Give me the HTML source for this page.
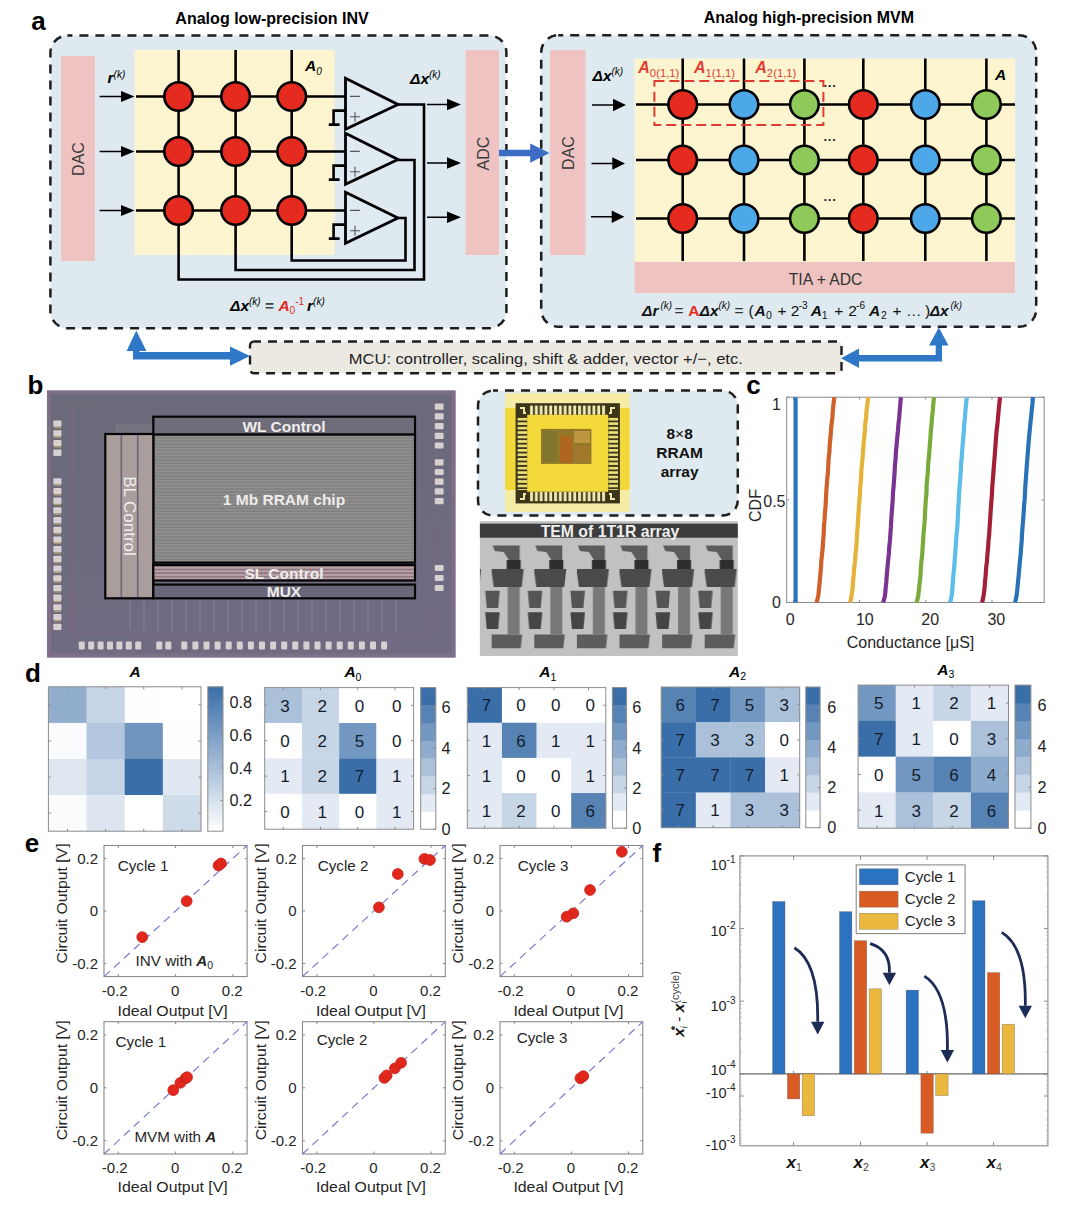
<!DOCTYPE html>
<html><head><meta charset="utf-8"><title>Figure</title>
<style>
html,body{margin:0;padding:0;background:#fff;width:1080px;height:1215px;overflow:hidden;}
svg{display:block;}
text{font-family:"Liberation Sans",Arial,sans-serif;}
.b{font-weight:bold;}
.bi{font-weight:bold;font-style:italic;}
.lbl{font-weight:bold;fill:#000;}
</style></head>
<body>
<svg width="1080" height="1215" viewBox="0 0 1080 1215">
<defs>
<marker id="ah" viewBox="0 0 10 10" refX="10" refY="5" markerWidth="10" markerHeight="10" markerUnits="userSpaceOnUse" orient="auto"><path d="M0,0 L10,5 L0,10 z" fill="#000"/></marker>
</defs>
<rect width="1080" height="1215" fill="#fff"/>

<!-- ============ SECTION A ============ -->
<text class="lbl" x="31.2" y="29.5" font-size="26">a</text>
<text class="b" x="175.3" y="24.4" font-size="16" textLength="193.5" lengthAdjust="spacingAndGlyphs">Analog low-precision INV</text>
<text class="b" x="703.8" y="22.8" font-size="16" textLength="210.2" lengthAdjust="spacingAndGlyphs">Analog high-precision MVM</text>

<!-- left box -->
<rect x="50.4" y="35.6" width="456" height="292.6" rx="17" fill="#deeaf0" stroke="#1e1e1e" stroke-width="2.5" stroke-dasharray="9 7" stroke-dashoffset="4"/>
<rect x="61" y="56" width="34" height="205" fill="#eec3c1"/>
<text x="84" y="159" font-size="16" fill="#3a3a3a" text-anchor="middle" transform="rotate(-90 84 159)">DAC</text>
<rect x="134.5" y="50" width="200" height="205" fill="#fcf5cf"/>
<rect x="465.5" y="50" width="33.5" height="205" fill="#eec3c1"/>
<text x="489" y="153.5" font-size="16" fill="#3a3a3a" text-anchor="middle" transform="rotate(-90 489 153.5)">ADC</text>

<g stroke="#000" stroke-width="2.6" fill="none">
<!-- columns with feedback -->
<path d="M178.6,50 V279.5 H424 V104.5 H398"/>
<path d="M235.6,50 V270 H414.5 V160 H398"/>
<path d="M291.7,50 V260.5 H405.5 V218 H398"/>
<!-- rows -->
<path d="M136,96.5 H345.5 M136,151.5 H345.5 M136,210.5 H345.5"/>
<!-- op-amps -->
<path d="M345.5,78.3 V129.3 L398,104.5 Z" stroke-width="2.8" fill="#dfeaf1"/>
<path d="M345.5,133.3 V184.3 L398,159.5 Z" stroke-width="2.8" fill="#dfeaf1"/>
<path d="M345.5,192.3 V243.3 L398,218 Z" stroke-width="2.8" fill="#dfeaf1"/>
<!-- ground symbols -->
<path d="M345.5,110.6 H333.6 V124.6 M328.8,124.6 H339.6"/>
<path d="M345.5,165.6 H333.6 V179.6 M328.8,179.6 H339.6"/>
<path d="M345.5,224.6 H333.6 V238.6 M328.8,238.6 H339.6"/>
</g>
<g stroke="#555" stroke-width="1.1" fill="none">
<path d="M350,96.4 H359.8 M350,151.4 H359.8 M350,210.4 H359.8"/>
<path d="M350,116.8 H360 M355,111.8 V121.8 M350,171.8 H360 M355,166.8 V176.8 M350,230.8 H360 M355,225.8 V235.8"/>
</g>
<!-- circles -->
<g fill="#e52b20" stroke="#000" stroke-width="2.6">
<circle cx="178.6" cy="96.5" r="14.3"/><circle cx="235.6" cy="96.5" r="14.3"/><circle cx="291.7" cy="96.5" r="14.3"/>
<circle cx="178.6" cy="151.5" r="14.3"/><circle cx="235.6" cy="151.5" r="14.3"/><circle cx="291.7" cy="151.5" r="14.3"/>
<circle cx="178.6" cy="210.5" r="14.3"/><circle cx="235.6" cy="210.5" r="14.3"/><circle cx="291.7" cy="210.5" r="14.3"/>
</g>
<!-- input arrows -->
<g stroke="#000" stroke-width="1.5">
<path d="M99.6,96.5 H122 M99.6,151.5 H122 M99.6,210.5 H122"/>
<path d="M427,104.5 H448 M427,163 H448 M427,217.2 H448"/>
</g>
<g fill="#000">
<path d="M121,91 L134.5,96.5 L121,102 Z M121,146 L134.5,151.5 L121,157 Z M121,205 L134.5,210.5 L121,216 Z"/>
<path d="M447,98.7 L461,104.5 L447,110.3 Z M447,157.2 L461,163 L447,168.8 Z M447,211.4 L461,217.2 L447,223 Z"/>
</g>
<text class="bi" x="107.5" y="82.8" font-size="15.5">r<tspan font-size="10" dy="-4.5" font-weight="normal">(k)</tspan></text>
<text class="bi" x="305" y="71.3" font-size="15.5">A<tspan font-size="10" dy="3.5" font-weight="normal">0</tspan></text>
<text class="bi" x="410" y="84.4" font-size="15.5">Δx<tspan font-size="10" dy="-6" font-weight="normal">(k)</tspan></text>
<text class="bi" x="230" y="310.6" font-size="15.5">Δx<tspan font-size="10" dy="-6" font-weight="normal">(k)</tspan><tspan dy="6" font-style="normal" fill="#444"> = </tspan><tspan fill="#e02a22">A</tspan><tspan font-size="10" dy="3.5" fill="#e02a22" font-style="normal" font-weight="normal">0</tspan><tspan font-size="10" dy="-9" fill="#e02a22" font-style="normal" font-weight="normal">-1</tspan><tspan dy="5.5" dx="3">r</tspan><tspan font-size="10" dy="-6" font-weight="normal">(k)</tspan></text>

<!-- blue arrow between boxes -->


<!-- right box -->
<rect x="541.2" y="35.2" width="495" height="291.5" rx="17" fill="#deeaf0" stroke="#1e1e1e" stroke-width="2.5" stroke-dasharray="9 7" stroke-dashoffset="4"/>
<path d="M499,149.8 H530.2 V143.6 L549.5,153 L530.2,162.7 V156.2 H499 Z" fill="#3d6cc4"/>
<rect x="550" y="50" width="35.5" height="205" fill="#eec3c1"/>
<text x="573.5" y="153" font-size="16" fill="#3a3a3a" text-anchor="middle" transform="rotate(-90 573.5 153)">DAC</text>
<rect x="634.5" y="58.5" width="380.5" height="203.5" fill="#fcf5cf"/>
<rect x="634.5" y="262" width="380.5" height="31" fill="#eec3c1"/>
<text x="825.6" y="285" font-size="15.7" fill="#333" text-anchor="middle">TIA + ADC</text>
<g stroke="#000" stroke-width="2.6" fill="none">
<path d="M682.7,58.5 V261 M744,58.5 V261 M804.4,58.5 V261 M863.3,58.5 V261 M925.3,58.5 V261 M986.4,58.5 V261"/>
<path d="M636,104.5 H1015 M636,160 H1015 M636,218.5 H1015"/>
</g>
<g stroke="#000" stroke-width="2.6">
<g fill="#e52b20"><circle cx="682.7" cy="104.5" r="14.3"/><circle cx="682.7" cy="160" r="14.3"/><circle cx="682.7" cy="218.5" r="14.3"/>
<circle cx="863.3" cy="104.5" r="14.3"/><circle cx="863.3" cy="160" r="14.3"/><circle cx="863.3" cy="218.5" r="14.3"/></g>
<g fill="#4da8ea"><circle cx="744" cy="104.5" r="14.3"/><circle cx="744" cy="160" r="14.3"/><circle cx="744" cy="218.5" r="14.3"/>
<circle cx="925.3" cy="104.5" r="14.3"/><circle cx="925.3" cy="160" r="14.3"/><circle cx="925.3" cy="218.5" r="14.3"/></g>
<g fill="#8ec95a"><circle cx="804.4" cy="104.5" r="14.3"/><circle cx="804.4" cy="160" r="14.3"/><circle cx="804.4" cy="218.5" r="14.3"/>
<circle cx="986.4" cy="104.5" r="14.3"/><circle cx="986.4" cy="160" r="14.3"/><circle cx="986.4" cy="218.5" r="14.3"/></g>
</g>
<rect x="654.4" y="81.1" width="169" height="43.8" fill="none" stroke="#e03c31" stroke-width="2" stroke-dasharray="10 5"/>
<g stroke="#000" stroke-width="1.5">
<path d="M592,105 H614 M591.5,163.5 H613.5 M591,216.7 H613"/>
</g>
<g fill="#000">
<path d="M613,98.7 L626,105 L613,111.3 Z M612.3,157.2 L625,163.5 L612.3,169.8 Z M611.7,210.4 L624.4,216.7 L611.7,223 Z"/>
</g>
<g font-size="13" font-weight="bold" fill="#222"><text x="823.5" y="90">···</text><text x="823.5" y="144">···</text><text x="823.5" y="203.5">···</text></g>
<text class="bi" x="592.5" y="80.5" font-size="15.5">Δx<tspan font-size="10" dy="-6" font-weight="normal">(k)</tspan></text>
<g class="bi" font-size="16" fill="#e03c31">
<text x="638.3" y="73.3">A<tspan font-size="11.3" dy="3.4" font-weight="normal" font-style="normal">0(1,1)</tspan></text>
<text x="694" y="73.3">A<tspan font-size="11.3" dy="3.4" font-weight="normal" font-style="normal">1(1,1)</tspan></text>
<text x="755.3" y="73.3">A<tspan font-size="11.3" dy="3.4" font-weight="normal" font-style="normal">2(1,1)</tspan></text>
</g>
<text class="bi" x="995" y="80" font-size="15.5">A</text>
<text class="bi" font-size="15.5" fill="#111"><tspan x="642" y="315.5">Δr</tspan><tspan x="660.5" y="309.0" font-size="10" font-weight="normal">(k)</tspan><tspan x="674.5" y="315.5" font-style="normal" font-weight="normal" fill="#333">=</tspan><tspan x="688.3" y="315.5" fill="#e52b20" font-style="normal">A</tspan><tspan x="699.5" y="315.5">Δx</tspan><tspan x="718.5" y="309.0" font-size="10" font-weight="normal">(k)</tspan><tspan x="734.5" y="315.5" font-style="normal" font-weight="normal" fill="#333">=</tspan><tspan x="748.5" y="315.5" font-style="normal" font-weight="normal">(</tspan><tspan x="754.6" y="315.5">A</tspan><tspan x="766" y="319.0" font-size="10.5" font-weight="normal" font-style="normal">0</tspan><tspan x="777.5" y="315.5" font-style="normal" font-weight="normal">+</tspan><tspan x="790.8" y="315.5" font-style="normal" font-weight="normal">2</tspan><tspan x="798.7" y="309.0" font-size="10" font-weight="normal" font-style="normal">-3</tspan><tspan x="810.7" y="315.5">A</tspan><tspan x="821.8" y="319.0" font-size="10.5" font-weight="normal" font-style="normal">1</tspan><tspan x="834.2" y="315.5" font-style="normal" font-weight="normal">+</tspan><tspan x="848.2" y="315.5" font-style="normal" font-weight="normal">2</tspan><tspan x="856.1" y="309.0" font-size="10" font-weight="normal" font-style="normal">-6</tspan><tspan x="868.9" y="315.5">A</tspan><tspan x="880.9" y="319.0" font-size="10.5" font-weight="normal" font-style="normal">2</tspan><tspan x="892.4" y="315.5" font-style="normal" font-weight="normal">+</tspan><tspan x="906" y="315.5" font-style="normal" font-weight="normal">…</tspan><tspan x="925" y="315.5" font-style="normal" font-weight="normal">)</tspan><tspan x="929.7" y="315.5">Δx</tspan><tspan x="950.5" y="309.0" font-size="10" font-weight="normal">(k)</tspan></text>

<!-- MCU -->
<rect x="250" y="341.5" width="591.5" height="31.8" rx="4" fill="#ebe9e2" stroke="#1e1e1e" stroke-width="2.4" stroke-dasharray="9 7" stroke-dashoffset="2"/>
<text x="348.8" y="363.7" font-size="15" fill="#222" textLength="394" lengthAdjust="spacingAndGlyphs">MCU: controller, scaling, shift &amp; adder, vector +/−, etc.</text>
<path d="M133,359.4 V351 H126.6 L136.3,330.6 L146.4,351 H139.4 V352 H230 V346.6 L250,356 L230,365.7 V359.4 Z" fill="#2f78c6"/>
<path d="M942,361.6 V345.5 H948.5 L938.8,327.4 L929,345.5 H935.7 V355 H859 V348.5 L841,358.3 L859,368 V361.6 Z" fill="#2f78c6"/>

<!-- ============ SECTION B ============ -->
<text class="lbl" x="27.5" y="393.7" font-size="26">b</text>
<defs>
<pattern id="arr" x="0" y="0" width="6" height="3.2" patternUnits="userSpaceOnUse">
<rect width="6" height="3.2" fill="#908f8d"/><rect y="2" width="6" height="1.1" fill="#7c7b7d"/>
</pattern>
<pattern id="sl" x="0" y="565" width="6" height="3.6" patternUnits="userSpaceOnUse">
<rect width="6" height="3.6" fill="#8e7a84"/><rect y="2" width="6" height="1.5" fill="#c5a9ad"/>
</pattern>
<pattern id="padsL" x="53" y="419.8" width="10" height="9.75" patternUnits="userSpaceOnUse">
<rect x="0.5" y="1" width="8" height="6" rx="1" fill="#d8d0cf"/><rect x="1" y="7" width="7" height="1.5" fill="#b59a6a"/>
</pattern>
<pattern id="padsR" x="434.5" y="401.8" width="10" height="9.8" patternUnits="userSpaceOnUse">
<rect x="0.2" y="1" width="8.8" height="6" rx="1" fill="#d8d0cf"/>
</pattern>
<pattern id="padsB" x="78" y="640" width="9.4" height="10" patternUnits="userSpaceOnUse">
<rect x="0.5" y="1.5" width="6" height="8" rx="1" fill="#d6cfd0"/>
</pattern>
<pattern id="padsB3" x="155.5" y="640" width="9" height="10" patternUnits="userSpaceOnUse">
<rect x="0.5" y="1.5" width="6" height="8" rx="1" fill="#d6cfd0"/></pattern>
<pattern id="padsB2" x="180.6" y="640" width="11.1" height="10" patternUnits="userSpaceOnUse">
<rect x="0.5" y="1.5" width="6" height="8" rx="1" fill="#d6cfd0"/></pattern>
<linearGradient id="chipg" x1="0" y1="0" x2="0.25" y2="1">
<stop offset="0" stop-color="#6a6a79"/><stop offset="0.6" stop-color="#6c6a7e"/><stop offset="1" stop-color="#706b83"/>
</linearGradient>
</defs>
<rect x="47" y="390.5" width="408.5" height="267" fill="url(#chipg)"/>
<rect x="49" y="392.5" width="404.5" height="263" fill="none" stroke="#84708a" stroke-width="4" opacity="0.7"/>
<rect x="73" y="405" width="362" height="228" fill="none" stroke="#80687c" stroke-width="1" opacity="0.7"/>
<g fill="#d7d0d1"><rect x="53.3" y="420.5" width="8.2" height="6.3" rx="1"/><rect x="53.3" y="430.2" width="8.2" height="6.3" rx="1"/><rect x="53.3" y="439.9" width="8.2" height="6.3" rx="1"/><rect x="53.3" y="449.6" width="8.2" height="6.3" rx="1"/><rect x="53.3" y="478.2" width="8.2" height="6.3" rx="1"/><rect x="53.3" y="487.9" width="8.2" height="6.3" rx="1"/><rect x="53.3" y="497.6" width="8.2" height="6.3" rx="1"/><rect x="53.3" y="507.3" width="8.2" height="6.3" rx="1"/><rect x="53.3" y="517.0" width="8.2" height="6.3" rx="1"/><rect x="53.3" y="526.7" width="8.2" height="6.3" rx="1"/><rect x="53.3" y="536.4" width="8.2" height="6.3" rx="1"/><rect x="53.3" y="546.1" width="8.2" height="6.3" rx="1"/><rect x="53.3" y="555.8" width="8.2" height="6.3" rx="1"/><rect x="53.3" y="565.5" width="8.2" height="6.3" rx="1"/><rect x="53.3" y="575.2" width="8.2" height="6.3" rx="1"/><rect x="53.3" y="584.9" width="8.2" height="6.3" rx="1"/><rect x="53.3" y="594.6" width="8.2" height="6.3" rx="1"/><rect x="53.3" y="604.3" width="8.2" height="6.3" rx="1"/><rect x="53.3" y="614.0" width="8.2" height="6.3" rx="1"/><rect x="53.3" y="623.7" width="8.2" height="6.3" rx="1"/><rect x="434.8" y="403.6" width="8.8" height="6.2" rx="1"/><rect x="434.8" y="413.3" width="8.8" height="6.2" rx="1"/><rect x="434.8" y="423.0" width="8.8" height="6.2" rx="1"/><rect x="434.8" y="432.7" width="8.8" height="6.2" rx="1"/><rect x="434.8" y="442.4" width="8.8" height="6.2" rx="1"/><rect x="434.8" y="459.2" width="8.8" height="6.2" rx="1"/><rect x="434.8" y="468.9" width="8.8" height="6.2" rx="1"/><rect x="434.8" y="478.6" width="8.8" height="6.2" rx="1"/><rect x="434.8" y="488.3" width="8.8" height="6.2" rx="1"/><rect x="434.8" y="498.0" width="8.8" height="6.2" rx="1"/><rect x="434.8" y="564.9" width="8.8" height="6.2" rx="1"/><rect x="434.8" y="574.9" width="8.8" height="6.2" rx="1"/><rect x="434.8" y="584.9" width="8.8" height="6.2" rx="1"/><rect x="78.8" y="641.5" width="6" height="8" rx="1"/><rect x="88.2" y="641.5" width="6" height="8" rx="1"/><rect x="97.6" y="641.5" width="6" height="8" rx="1"/><rect x="107.0" y="641.5" width="6" height="8" rx="1"/><rect x="116.4" y="641.5" width="6" height="8" rx="1"/><rect x="125.8" y="641.5" width="6" height="8" rx="1"/><rect x="135.2" y="641.5" width="6" height="8" rx="1"/><rect x="156.3" y="641.5" width="6" height="8" rx="1"/><rect x="165.3" y="641.5" width="6" height="8" rx="1"/><rect x="181.3" y="641.5" width="6" height="8" rx="1"/><rect x="192.4" y="641.5" width="6" height="8" rx="1"/><rect x="203.5" y="641.5" width="6" height="8" rx="1"/><rect x="214.6" y="641.5" width="6" height="8" rx="1"/><rect x="225.7" y="641.5" width="6" height="8" rx="1"/><rect x="236.8" y="641.5" width="6" height="8" rx="1"/><rect x="247.9" y="641.5" width="6" height="8" rx="1"/><rect x="259.0" y="641.5" width="6" height="8" rx="1"/><rect x="270.1" y="641.5" width="6" height="8" rx="1"/><rect x="281.2" y="641.5" width="6" height="8" rx="1"/><rect x="292.3" y="641.5" width="6" height="8" rx="1"/><rect x="303.4" y="641.5" width="6" height="8" rx="1"/><rect x="314.5" y="641.5" width="6" height="8" rx="1"/><rect x="325.6" y="641.5" width="6" height="8" rx="1"/><rect x="336.7" y="641.5" width="6" height="8" rx="1"/><rect x="347.8" y="641.5" width="6" height="8" rx="1"/><rect x="358.9" y="641.5" width="6" height="8" rx="1"/><rect x="370.0" y="641.5" width="6" height="8" rx="1"/><rect x="381.1" y="641.5" width="6" height="8" rx="1"/></g><g fill="#b59a6a"><rect x="54" y="426.8" width="7" height="1.4"/><rect x="54" y="436.5" width="7" height="1.4"/><rect x="54" y="446.2" width="7" height="1.4"/><rect x="54" y="484.5" width="7" height="1.4"/><rect x="54" y="494.2" width="7" height="1.4"/><rect x="54" y="503.9" width="7" height="1.4"/><rect x="54" y="513.6" width="7" height="1.4"/><rect x="54" y="523.3" width="7" height="1.4"/><rect x="54" y="533.0" width="7" height="1.4"/><rect x="54" y="542.7" width="7" height="1.4"/><rect x="54" y="552.4" width="7" height="1.4"/><rect x="54" y="562.1" width="7" height="1.4"/><rect x="54" y="571.8" width="7" height="1.4"/><rect x="54" y="581.5" width="7" height="1.4"/><rect x="54" y="591.2" width="7" height="1.4"/><rect x="54" y="600.9" width="7" height="1.4"/><rect x="54" y="610.6" width="7" height="1.4"/><rect x="54" y="620.3" width="7" height="1.4"/></g>
<!-- lower wiring lines -->
<g stroke="#9c92a6" stroke-width="0.8" opacity="0.8">
<path d="M130,600 V630 M144,600 V630 M158,600 V632 M172,600 V632 M186,600 V632 M200,600 V632 M214,600 V632 M228,600 V632 M242,600 V632 M256,600 V632 M270,600 V632 M284,600 V632 M298,600 V632 M312,600 V632 M326,600 V632 M340,600 V632 M354,600 V632 M368,600 V632 M382,600 V632 M396,600 V632"/>
</g>
<rect x="115" y="424" width="40" height="10" fill="#7c7884" opacity="0.7"/>
<!-- WL control -->
<rect x="153.3" y="416.7" width="261.7" height="18" fill="#6e6d79" stroke="#050505" stroke-width="2.2"/>
<!-- main array -->
<rect x="153.3" y="434.6" width="261.7" height="128" fill="url(#arr)" stroke="#050505" stroke-width="2.2"/>
<!-- BL control -->
<rect x="105.3" y="434" width="48" height="164.3" fill="#a99e9c" stroke="#050505" stroke-width="2.2"/>
<path d="M121.3,435 V597 M137.7,435 V597" stroke="#6f6777" stroke-width="1.6"/>
<!-- SL control -->
<rect x="153.3" y="565" width="261.7" height="15.5" fill="url(#sl)" stroke="#050505" stroke-width="2.2"/>
<!-- MUX -->
<rect x="153.3" y="584.6" width="261.7" height="13.7" fill="#6a677a" stroke="#050505" stroke-width="2.2"/>
<path d="M153.3,581.5 V584" stroke="#050505" stroke-width="2"/>
<g fill="#efecec" font-weight="bold" text-anchor="middle">
<text x="284" y="431.5" font-size="15.5">WL Control</text>
<text x="284" y="504.5" font-size="15.5">1 Mb RRAM chip</text>
<text x="284" y="578.5" font-size="15.5">SL Control</text>
<text x="284" y="597" font-size="15.5">MUX</text>
</g>
<text x="129.5" y="516" font-size="17" fill="#f0eeee" text-anchor="middle" transform="rotate(90 129.5 516)" dy="6">BL Control</text>

<!-- package photo box -->
<rect x="478" y="390.6" width="259.8" height="125" rx="15" fill="#deeaf0" stroke="#1e1e1e" stroke-width="2.5" stroke-dasharray="9 7" stroke-dashoffset="4"/>
<rect x="505.2" y="393.2" width="124.4" height="118.7" fill="#f6eca6"/>
<rect x="505.2" y="408" width="124.4" height="82" fill="#f2d83a"/>
<rect x="515.6" y="403.2" width="104.3" height="100.2" fill="#3b3519"/>
<defs>
<pattern id="pinH" x="529" y="0" width="4.8" height="10" patternUnits="userSpaceOnUse"><rect x="1.1" width="2.9" height="10" fill="#f3eab2"/></pattern>
<pattern id="pinV" x="0" y="417" width="10" height="4.45" patternUnits="userSpaceOnUse"><rect y="0.9" width="10" height="2.6" fill="#ebe07a"/></pattern>
</defs>
<rect x="529" y="405.6" width="77" height="9.2" fill="url(#pinH)"/>
<rect x="529" y="492" width="77" height="9.2" fill="url(#pinH)"/>
<rect x="517.6" y="417" width="9.6" height="73" fill="url(#pinV)"/>
<rect x="608.4" y="417" width="9.6" height="73" fill="url(#pinV)"/>
<path d="M520,408 h4 v5 h2 M520,499 h4 v-5 h2 M615,408 h-4 v5 h-2 M615,499 h-4 v-5 h-2" stroke="#efe6a8" stroke-width="2" fill="none"/>
<rect x="527.2" y="414.8" width="81" height="77" fill="#f3d93a"/>
<rect x="541" y="428.9" width="50.4" height="35" fill="#94782a"/>
<rect x="543" y="431" width="14" height="31" fill="#7d7530" opacity="0.8"/>
<rect x="560" y="436" width="12" height="27" fill="#b8601c" opacity="0.75"/>
<rect x="574" y="431" width="16" height="12" fill="#d0a24a" opacity="0.7"/>
<rect x="574" y="446" width="16" height="16" fill="#a87a30" opacity="0.6"/>
<g fill="#111" font-weight="bold" text-anchor="middle" font-size="15.5">
<text x="679.6" y="438.7">8<tspan font-weight="normal">×</tspan>8</text>
<text x="679.6" y="458.1">RRAM</text>
<text x="679.6" y="477">array</text>
</g>

<!-- TEM -->
<defs>
<pattern id="tem" x="491.7" y="521" width="42.6" height="136" patternUnits="userSpaceOnUse">
<rect width="42.6" height="136" fill="#c1c1c1"/>
<path d="M1,24.5 H28 V39 H17 L12,31 L3,30 Z" fill="#5b5b5b"/>
<rect x="15" y="39" width="14" height="9" fill="#2e2e2e"/>
<path d="M-0.5,48 H32 L30,66 H2 Z" fill="#4a4a4a"/>
<rect x="16" y="66" width="12" height="47.4" fill="#787878"/>
<path d="M-6.5,69.7 H8 L6.5,87 H-5 Z" fill="#555"/>
<path d="M36.1,69.7 H50.6 L49.1,87 H37.6 Z" fill="#555"/>
<path d="M-6.5,91.2 H8 L6.5,108 H-5 Z" fill="#454545"/>
<path d="M36.1,91.2 H50.6 L49.1,108 H37.6 Z" fill="#454545"/>
<path d="M-2,113.4 H30.5 L29,127.3 H-0.5 Z" fill="#5c5c5c"/>
</pattern>
</defs>
<rect x="479.9" y="521.2" width="257.9" height="134.8" fill="url(#tem)"/>
<rect x="479.9" y="523.7" width="257.9" height="14" fill="#3c3c3c"/>
<text x="610" y="536.6" font-size="15.8" font-weight="bold" fill="#f0f0f0" text-anchor="middle">TEM of 1T1R array</text>
<!-- ============ SECTION C ============ -->
<text class="lbl" x="746.3" y="394" font-size="26">c</text>
<rect x="786.7" y="397.2" width="257.5" height="205.3" fill="#fff" stroke="#8a8a8a" stroke-width="1"/>
<path d="M793.4,602.5 v-2.5 M793.4,397.2 v2.5 M859.6,602.5 v-2.5 M859.6,397.2 v2.5 M925.8,602.5 v-2.5 M925.8,397.2 v2.5 M992.0,602.5 v-2.5 M992.0,397.2 v2.5 M786.7,602.5 h2.5 M1044.2,602.5 h-2.5 M786.7,499.9 h2.5 M1044.2,499.9 h-2.5 M786.7,397.2 h2.5 M1044.2,397.2 h-2.5" stroke="#8a8a8a" stroke-width="1"/>
<g clip-path="url(#clipc)">
<polyline points="795.6,602.5 795.6,595.7 795.6,588.8 795.6,582.0 795.6,575.1 795.6,568.3 795.6,561.4 795.6,554.6 795.6,547.8 795.6,540.9 795.6,534.1 795.6,527.2 795.6,520.4 795.6,513.5 795.6,506.7 795.6,499.9 795.6,493.0 795.6,486.2 795.6,479.3 795.6,472.5 795.6,465.6 795.6,458.8 795.6,451.9 795.6,445.1 795.6,438.3 795.6,431.4 795.6,424.6 795.6,417.7 795.6,410.9 795.6,404.0 795.6,397.2" fill="none" stroke="#2a75bb" stroke-width="4.2" stroke-linejoin="round"/>
<polyline points="816.6,602.5 818.3,595.7 819.0,588.8 819.7,582.0 820.3,575.1 820.9,568.3 821.3,561.4 822.0,554.6 822.7,547.8 823.1,540.9 823.7,534.1 823.9,527.2 824.5,520.4 824.9,513.5 825.5,506.7 825.9,499.9 826.2,493.0 826.7,486.2 827.2,479.3 827.9,472.5 828.3,465.6 828.6,458.8 829.4,451.9 829.7,445.1 830.4,438.3 830.9,431.4 831.5,424.6 832.4,417.7 832.8,410.9 833.5,404.0 834.3,397.2" fill="none" stroke="#cf6028" stroke-width="4.2" stroke-linejoin="round"/>
<polyline points="850.1,602.5 851.6,595.7 852.5,588.8 853.0,582.0 853.7,575.1 854.2,568.3 855.0,561.4 855.5,554.6 856.2,547.8 856.7,540.9 857.0,534.1 857.6,527.2 858.0,520.4 858.5,513.5 858.9,506.7 859.4,499.9 860.0,493.0 860.3,486.2 861.0,479.3 861.3,472.5 861.8,465.6 862.5,458.8 863.0,451.9 863.5,445.1 864.1,438.3 864.8,431.4 865.2,424.6 866.1,417.7 866.5,410.9 867.4,404.0 868.1,397.2" fill="none" stroke="#e5b338" stroke-width="4.2" stroke-linejoin="round"/>
<polyline points="883.2,602.5 885.0,595.7 885.6,588.8 886.3,582.0 886.8,575.1 887.4,568.3 888.0,561.4 888.8,554.6 889.2,547.8 889.9,540.9 890.4,534.1 890.9,527.2 891.2,520.4 891.7,513.5 892.2,506.7 892.7,499.9 893.0,493.0 893.6,486.2 894.1,479.3 894.6,472.5 894.9,465.6 895.6,458.8 895.9,451.9 896.6,445.1 897.2,438.3 897.9,431.4 898.4,424.6 899.2,417.7 899.7,410.9 900.3,404.0 900.9,397.2" fill="none" stroke="#7b3391" stroke-width="4.2" stroke-linejoin="round"/>
<polyline points="916.7,602.5 918.3,595.7 919.0,588.8 919.8,582.0 920.5,575.1 920.8,568.3 921.4,561.4 922.2,554.6 922.6,547.8 923.1,540.9 923.5,534.1 924.1,527.2 924.7,520.4 925.0,513.5 925.4,506.7 925.8,499.9 926.5,493.0 926.6,486.2 927.2,479.3 927.8,472.5 928.1,465.6 928.7,458.8 929.3,451.9 929.8,445.1 930.4,438.3 930.8,431.4 931.5,424.6 932.0,417.7 932.8,410.9 933.3,404.0 934.0,397.2" fill="none" stroke="#7aab3a" stroke-width="4.2" stroke-linejoin="round"/>
<polyline points="950.1,602.5 951.7,595.7 952.4,588.8 952.8,582.0 953.4,575.1 954.1,568.3 954.6,561.4 955.1,554.6 955.6,547.8 956.1,540.9 956.6,534.1 957.3,527.2 957.7,520.4 958.0,513.5 958.4,506.7 958.8,499.9 959.2,493.0 959.6,486.2 960.2,479.3 960.7,472.5 961.0,465.6 961.6,458.8 962.1,451.9 962.6,445.1 963.2,438.3 963.8,431.4 964.2,424.6 964.9,417.7 965.4,410.9 966.1,404.0 966.8,397.2" fill="none" stroke="#5bbde8" stroke-width="4.2" stroke-linejoin="round"/>
<polyline points="982.1,602.5 983.6,595.7 984.5,588.8 985.0,582.0 985.7,575.1 986.1,568.3 986.9,561.4 987.4,554.6 988.1,547.8 988.5,540.9 989.2,534.1 989.6,527.2 990.1,520.4 990.5,513.5 991.0,506.7 991.5,499.9 992.0,493.0 992.3,486.2 992.9,479.3 993.4,472.5 993.9,465.6 994.5,458.8 995.0,451.9 995.5,445.1 996.0,438.3 996.5,431.4 997.4,424.6 998.0,417.7 998.6,410.9 999.3,404.0 1000.0,397.2" fill="none" stroke="#a21f35" stroke-width="4.2" stroke-linejoin="round"/>
<polyline points="1015.1,602.5 1016.6,595.7 1017.4,588.8 1018.0,582.0 1018.7,575.1 1019.3,568.3 1019.9,561.4 1020.6,554.6 1021.1,547.8 1021.7,540.9 1022.0,534.1 1022.5,527.2 1023.1,520.4 1023.6,513.5 1024.0,506.7 1024.6,499.9 1025.0,493.0 1025.3,486.2 1025.9,479.3 1026.3,472.5 1026.8,465.6 1027.3,458.8 1027.9,451.9 1028.4,445.1 1029.0,438.3 1029.6,431.4 1030.3,424.6 1031.0,417.7 1031.7,410.9 1032.4,404.0 1032.9,397.2" fill="none" stroke="#2a72b8" stroke-width="4.2" stroke-linejoin="round"/>
</g>
<defs><clipPath id="clipc"><rect x="786.7" y="395.2" width="257.5" height="209.3"/></clipPath></defs>
<g font-size="16" fill="#262626" text-anchor="middle">
<text x="790.2" y="625">0</text>
<text x="864.8" y="625">10</text>
<text x="930.2" y="625">20</text>
<text x="996.3" y="625">30</text>
</g>
<g font-size="16" fill="#262626" text-anchor="end">
<text x="781" y="410">1</text><text x="785.5" y="506.5">0.5</text><text x="781" y="607.8">0</text>
</g>
<text x="910.5" y="648" font-size="16" fill="#262626" text-anchor="middle">Conductance [μS]</text>
<text x="0" y="0" font-size="16" fill="#262626" text-anchor="middle" transform="translate(760.8,505.5) rotate(-90)">CDF</text>
<!-- ============ SECTION D ============ -->
<text class="lbl" x="25" y="682.2" font-size="26">d</text>
<defs><linearGradient id="cbA" x1="0" y1="1" x2="0" y2="0"><stop offset="0" stop-color="#ffffff"/><stop offset="1" stop-color="#3a6ea8"/></linearGradient></defs>
<g><!-- A -->
<rect x="48.40" y="686.80" width="38.45" height="36.40" fill="#92aecf"/>
<rect x="86.55" y="686.80" width="38.45" height="36.40" fill="#c6d5e6"/>
<rect x="124.70" y="686.80" width="38.45" height="36.40" fill="#fefeff"/>
<rect x="162.85" y="686.80" width="38.45" height="36.40" fill="#ffffff"/>
<rect x="48.40" y="722.90" width="38.45" height="36.40" fill="#f9fbfd"/>
<rect x="86.55" y="722.90" width="38.45" height="36.40" fill="#b2c7dd"/>
<rect x="124.70" y="722.90" width="38.45" height="36.40" fill="#7096c0"/>
<rect x="162.85" y="722.90" width="38.45" height="36.40" fill="#fdfdfe"/>
<rect x="48.40" y="759.00" width="38.45" height="36.40" fill="#dee7f0"/>
<rect x="86.55" y="759.00" width="38.45" height="36.40" fill="#c5d5e6"/>
<rect x="124.70" y="759.00" width="38.45" height="36.40" fill="#3a6ea8"/>
<rect x="162.85" y="759.00" width="38.45" height="36.40" fill="#e0e8f1"/>
<rect x="48.40" y="795.10" width="38.45" height="36.40" fill="#fafbfd"/>
<rect x="86.55" y="795.10" width="38.45" height="36.40" fill="#dde6f0"/>
<rect x="124.70" y="795.10" width="38.45" height="36.40" fill="#ffffff"/>
<rect x="162.85" y="795.10" width="38.45" height="36.40" fill="#cedbe9"/>
<rect x="48.4" y="686.8" width="152.6" height="144.4" fill="none" stroke="#8c8c8c" stroke-width="1"/>
<path d="M67.5,686.8 v2.5 M67.5,831.2 v-2.5 M48.4,704.8 h2.5 M201,704.8 h-2.5 M105.6,686.8 v2.5 M105.6,831.2 v-2.5 M48.4,741.0 h2.5 M201,741.0 h-2.5 M143.8,686.8 v2.5 M143.8,831.2 v-2.5 M48.4,777.0 h2.5 M201,777.0 h-2.5 M181.9,686.8 v2.5 M181.9,831.2 v-2.5 M48.4,813.2 h2.5 M201,813.2 h-2.5" stroke="#8c8c8c" stroke-width="1"/>
<rect x="207.8" y="686.8" width="15.2" height="144.4" fill="url(#cbA)" stroke="#8c8c8c" stroke-width="1"/>
<g font-size="16.3" fill="#1e1e1e">
<text x="229.4" y="707.6">0.8</text>
<text x="229.4" y="741.2">0.6</text>
<text x="229.4" y="773.6">0.4</text>
<text x="229.4" y="806.2">0.2</text>
</g>
<path d="M223,702.0 h-2.5 M223,735.6 h-2.5 M223,768.0 h-2.5 M223,800.6 h-2.5" stroke="#8c8c8c" stroke-width="1"/>
<text class="bi" x="135" y="677.3" font-size="15.5" text-anchor="middle">A</text>
</g>
<g><!-- A0 -->
<rect x="264.70" y="687.60" width="37.53" height="35.70" fill="#abc1da"/>
<rect x="301.93" y="687.60" width="37.53" height="35.70" fill="#c7d6e6"/>
<rect x="339.15" y="687.60" width="37.53" height="35.70" fill="#ffffff"/>
<rect x="376.38" y="687.60" width="37.53" height="35.70" fill="#ffffff"/>
<rect x="264.70" y="723.00" width="37.53" height="35.70" fill="#ffffff"/>
<rect x="301.93" y="723.00" width="37.53" height="35.70" fill="#c7d6e6"/>
<rect x="339.15" y="723.00" width="37.53" height="35.70" fill="#7297c1"/>
<rect x="376.38" y="723.00" width="37.53" height="35.70" fill="#ffffff"/>
<rect x="264.70" y="758.40" width="37.53" height="35.70" fill="#e3eaf3"/>
<rect x="301.93" y="758.40" width="37.53" height="35.70" fill="#c7d6e6"/>
<rect x="339.15" y="758.40" width="37.53" height="35.70" fill="#3a6ea8"/>
<rect x="376.38" y="758.40" width="37.53" height="35.70" fill="#e3eaf3"/>
<rect x="264.70" y="793.80" width="37.53" height="35.70" fill="#ffffff"/>
<rect x="301.93" y="793.80" width="37.53" height="35.70" fill="#e3eaf3"/>
<rect x="339.15" y="793.80" width="37.53" height="35.70" fill="#ffffff"/>
<rect x="376.38" y="793.80" width="37.53" height="35.70" fill="#e3eaf3"/>
<rect x="264.7" y="687.6" width="148.9" height="141.6" fill="none" stroke="#8c8c8c" stroke-width="1"/>
<path d="M283.3,687.6 v2.5 M283.3,829.2 v-2.5 M264.7,705.3 h2.5 M413.6,705.3 h-2.5 M320.5,687.6 v2.5 M320.5,829.2 v-2.5 M264.7,740.7 h2.5 M413.6,740.7 h-2.5 M357.8,687.6 v2.5 M357.8,829.2 v-2.5 M264.7,776.1 h2.5 M413.6,776.1 h-2.5 M395.0,687.6 v2.5 M395.0,829.2 v-2.5 M264.7,811.5 h2.5 M413.6,811.5 h-2.5" stroke="#8c8c8c" stroke-width="1"/>
<g font-size="17" fill="#141c2c" text-anchor="middle">
<text x="285.1" y="711.5">3</text>
<text x="322.3" y="711.5">2</text>
<text x="359.6" y="711.5">0</text>
<text x="396.8" y="711.5">0</text>
<text x="285.1" y="746.9">0</text>
<text x="322.3" y="746.9">2</text>
<text x="359.6" y="746.9">5</text>
<text x="396.8" y="746.9">0</text>
<text x="285.1" y="782.3">1</text>
<text x="322.3" y="782.3">2</text>
<text x="359.6" y="782.3">7</text>
<text x="396.8" y="782.3">1</text>
<text x="285.1" y="817.7">0</text>
<text x="322.3" y="817.7">1</text>
<text x="359.6" y="817.7">0</text>
<text x="396.8" y="817.7">1</text>
</g>
<rect x="420.7" y="811.50" width="15.1" height="18.00" fill="#ffffff"/>
<rect x="420.7" y="793.80" width="15.1" height="18.00" fill="#e3eaf3"/>
<rect x="420.7" y="776.10" width="15.1" height="18.00" fill="#c7d6e6"/>
<rect x="420.7" y="758.40" width="15.1" height="18.00" fill="#abc1da"/>
<rect x="420.7" y="740.70" width="15.1" height="18.00" fill="#8eaccd"/>
<rect x="420.7" y="723.00" width="15.1" height="18.00" fill="#7297c1"/>
<rect x="420.7" y="705.30" width="15.1" height="18.00" fill="#5683b4"/>
<rect x="420.7" y="687.60" width="15.1" height="18.00" fill="#3a6ea8"/>
<rect x="420.7" y="687.6" width="15.1" height="141.6" fill="none" stroke="#8c8c8c" stroke-width="1"/>
<g font-size="16.3" fill="#1e1e1e">
<text x="441.5" y="834.8">0</text>
<text x="441.5" y="794.3">2</text>
<text x="441.5" y="753.9">4</text>
<text x="441.5" y="713.4">6</text>
</g>
<path d="M435.8,829.2 h-2.5 M435.8,788.7 h-2.5 M435.8,748.3 h-2.5 M435.8,707.8 h-2.5" stroke="#8c8c8c" stroke-width="1"/>
<text class="bi" x="352.9" y="677.1" font-size="15.5" text-anchor="middle">A<tspan font-size="10.5" dy="3.5" font-weight="normal" font-style="normal">0</tspan></text>
</g>
<g><!-- A1 -->
<rect x="467.30" y="687.60" width="34.92" height="35.45" fill="#3a6ea8"/>
<rect x="501.93" y="687.60" width="34.92" height="35.45" fill="#ffffff"/>
<rect x="536.55" y="687.60" width="34.92" height="35.45" fill="#ffffff"/>
<rect x="571.17" y="687.60" width="34.92" height="35.45" fill="#ffffff"/>
<rect x="467.30" y="722.75" width="34.92" height="35.45" fill="#e3eaf3"/>
<rect x="501.93" y="722.75" width="34.92" height="35.45" fill="#5683b4"/>
<rect x="536.55" y="722.75" width="34.92" height="35.45" fill="#e3eaf3"/>
<rect x="571.17" y="722.75" width="34.92" height="35.45" fill="#e3eaf3"/>
<rect x="467.30" y="757.90" width="34.92" height="35.45" fill="#e3eaf3"/>
<rect x="501.93" y="757.90" width="34.92" height="35.45" fill="#ffffff"/>
<rect x="536.55" y="757.90" width="34.92" height="35.45" fill="#ffffff"/>
<rect x="571.17" y="757.90" width="34.92" height="35.45" fill="#e3eaf3"/>
<rect x="467.30" y="793.05" width="34.92" height="35.45" fill="#e3eaf3"/>
<rect x="501.93" y="793.05" width="34.92" height="35.45" fill="#c7d6e6"/>
<rect x="536.55" y="793.05" width="34.92" height="35.45" fill="#ffffff"/>
<rect x="571.17" y="793.05" width="34.92" height="35.45" fill="#5683b4"/>
<rect x="467.3" y="687.6" width="138.5" height="140.6" fill="none" stroke="#8c8c8c" stroke-width="1"/>
<path d="M484.6,687.6 v2.5 M484.6,828.2 v-2.5 M467.3,705.2 h2.5 M605.8,705.2 h-2.5 M519.2,687.6 v2.5 M519.2,828.2 v-2.5 M467.3,740.3 h2.5 M605.8,740.3 h-2.5 M553.9,687.6 v2.5 M553.9,828.2 v-2.5 M467.3,775.5 h2.5 M605.8,775.5 h-2.5 M588.5,687.6 v2.5 M588.5,828.2 v-2.5 M467.3,810.6 h2.5 M605.8,810.6 h-2.5" stroke="#8c8c8c" stroke-width="1"/>
<g font-size="17" fill="#141c2c" text-anchor="middle">
<text x="486.4" y="711.4">7</text>
<text x="521.0" y="711.4">0</text>
<text x="555.7" y="711.4">0</text>
<text x="590.3" y="711.4">0</text>
<text x="486.4" y="746.5">1</text>
<text x="521.0" y="746.5">6</text>
<text x="555.7" y="746.5">1</text>
<text x="590.3" y="746.5">1</text>
<text x="486.4" y="781.7">1</text>
<text x="521.0" y="781.7">0</text>
<text x="555.7" y="781.7">0</text>
<text x="590.3" y="781.7">1</text>
<text x="486.4" y="816.8">1</text>
<text x="521.0" y="816.8">2</text>
<text x="555.7" y="816.8">0</text>
<text x="590.3" y="816.8">6</text>
</g>
<rect x="612.4" y="810.62" width="14.2" height="17.88" fill="#ffffff"/>
<rect x="612.4" y="793.05" width="14.2" height="17.88" fill="#e3eaf3"/>
<rect x="612.4" y="775.48" width="14.2" height="17.88" fill="#c7d6e6"/>
<rect x="612.4" y="757.90" width="14.2" height="17.88" fill="#abc1da"/>
<rect x="612.4" y="740.33" width="14.2" height="17.88" fill="#8eaccd"/>
<rect x="612.4" y="722.75" width="14.2" height="17.88" fill="#7297c1"/>
<rect x="612.4" y="705.18" width="14.2" height="17.88" fill="#5683b4"/>
<rect x="612.4" y="687.60" width="14.2" height="17.88" fill="#3a6ea8"/>
<rect x="612.4" y="687.6" width="14.2" height="140.6" fill="none" stroke="#8c8c8c" stroke-width="1"/>
<g font-size="16.3" fill="#1e1e1e">
<text x="632.3" y="833.8">0</text>
<text x="632.3" y="793.6">2</text>
<text x="632.3" y="753.5">4</text>
<text x="632.3" y="713.3">6</text>
</g>
<path d="M626.6,828.2 h-2.5 M626.6,788.0 h-2.5 M626.6,747.9 h-2.5 M626.6,707.7 h-2.5" stroke="#8c8c8c" stroke-width="1"/>
<text class="bi" x="547.8" y="677.1" font-size="15.5" text-anchor="middle">A<tspan font-size="10.5" dy="3.5" font-weight="normal" font-style="normal">1</tspan></text>
</g>
<g><!-- A2 -->
<rect x="661.20" y="687.00" width="34.92" height="35.48" fill="#5683b4"/>
<rect x="695.83" y="687.00" width="34.92" height="35.48" fill="#3a6ea8"/>
<rect x="730.45" y="687.00" width="34.92" height="35.48" fill="#7297c1"/>
<rect x="765.08" y="687.00" width="34.92" height="35.48" fill="#abc1da"/>
<rect x="661.20" y="722.17" width="34.92" height="35.48" fill="#3a6ea8"/>
<rect x="695.83" y="722.17" width="34.92" height="35.48" fill="#abc1da"/>
<rect x="730.45" y="722.17" width="34.92" height="35.48" fill="#abc1da"/>
<rect x="765.08" y="722.17" width="34.92" height="35.48" fill="#ffffff"/>
<rect x="661.20" y="757.35" width="34.92" height="35.48" fill="#3a6ea8"/>
<rect x="695.83" y="757.35" width="34.92" height="35.48" fill="#3a6ea8"/>
<rect x="730.45" y="757.35" width="34.92" height="35.48" fill="#3a6ea8"/>
<rect x="765.08" y="757.35" width="34.92" height="35.48" fill="#e3eaf3"/>
<rect x="661.20" y="792.53" width="34.92" height="35.48" fill="#3a6ea8"/>
<rect x="695.83" y="792.53" width="34.92" height="35.48" fill="#e3eaf3"/>
<rect x="730.45" y="792.53" width="34.92" height="35.48" fill="#abc1da"/>
<rect x="765.08" y="792.53" width="34.92" height="35.48" fill="#abc1da"/>
<rect x="661.2" y="687" width="138.5" height="140.7" fill="none" stroke="#8c8c8c" stroke-width="1"/>
<path d="M678.5,687 v2.5 M678.5,827.7 v-2.5 M661.2,704.6 h2.5 M799.7,704.6 h-2.5 M713.1,687 v2.5 M713.1,827.7 v-2.5 M661.2,739.8 h2.5 M799.7,739.8 h-2.5 M747.8,687 v2.5 M747.8,827.7 v-2.5 M661.2,774.9 h2.5 M799.7,774.9 h-2.5 M782.4,687 v2.5 M782.4,827.7 v-2.5 M661.2,810.1 h2.5 M799.7,810.1 h-2.5" stroke="#8c8c8c" stroke-width="1"/>
<g font-size="17" fill="#141c2c" text-anchor="middle">
<text x="680.3" y="710.8">6</text>
<text x="714.9" y="710.8">7</text>
<text x="749.6" y="710.8">5</text>
<text x="784.2" y="710.8">3</text>
<text x="680.3" y="746.0">7</text>
<text x="714.9" y="746.0">3</text>
<text x="749.6" y="746.0">3</text>
<text x="784.2" y="746.0">0</text>
<text x="680.3" y="781.1">7</text>
<text x="714.9" y="781.1">7</text>
<text x="749.6" y="781.1">7</text>
<text x="784.2" y="781.1">1</text>
<text x="680.3" y="816.3">7</text>
<text x="714.9" y="816.3">1</text>
<text x="749.6" y="816.3">3</text>
<text x="784.2" y="816.3">3</text>
</g>
<rect x="805.8" y="810.11" width="14.3" height="17.89" fill="#ffffff"/>
<rect x="805.8" y="792.53" width="14.3" height="17.89" fill="#e3eaf3"/>
<rect x="805.8" y="774.94" width="14.3" height="17.89" fill="#c7d6e6"/>
<rect x="805.8" y="757.35" width="14.3" height="17.89" fill="#abc1da"/>
<rect x="805.8" y="739.76" width="14.3" height="17.89" fill="#8eaccd"/>
<rect x="805.8" y="722.17" width="14.3" height="17.89" fill="#7297c1"/>
<rect x="805.8" y="704.59" width="14.3" height="17.89" fill="#5683b4"/>
<rect x="805.8" y="687.00" width="14.3" height="17.89" fill="#3a6ea8"/>
<rect x="805.8" y="687" width="14.3" height="140.7" fill="none" stroke="#8c8c8c" stroke-width="1"/>
<g font-size="16.3" fill="#1e1e1e">
<text x="827.2" y="833.3">0</text>
<text x="827.2" y="793.1">2</text>
<text x="827.2" y="752.9">4</text>
<text x="827.2" y="712.7">6</text>
</g>
<path d="M820.1,827.7 h-2.5 M820.1,787.5 h-2.5 M820.1,747.3 h-2.5 M820.1,707.1 h-2.5" stroke="#8c8c8c" stroke-width="1"/>
<text class="bi" x="737.6" y="676.5" font-size="15.5" text-anchor="middle">A<tspan font-size="10.5" dy="3.5" font-weight="normal" font-style="normal">2</tspan></text>
</g>
<g><!-- A3 -->
<rect x="858.10" y="685.10" width="37.90" height="36.08" fill="#7297c1"/>
<rect x="895.70" y="685.10" width="37.90" height="36.08" fill="#e3eaf3"/>
<rect x="933.30" y="685.10" width="37.90" height="36.08" fill="#c7d6e6"/>
<rect x="970.90" y="685.10" width="37.90" height="36.08" fill="#e3eaf3"/>
<rect x="858.10" y="720.88" width="37.90" height="36.08" fill="#3a6ea8"/>
<rect x="895.70" y="720.88" width="37.90" height="36.08" fill="#e3eaf3"/>
<rect x="933.30" y="720.88" width="37.90" height="36.08" fill="#ffffff"/>
<rect x="970.90" y="720.88" width="37.90" height="36.08" fill="#abc1da"/>
<rect x="858.10" y="756.65" width="37.90" height="36.08" fill="#ffffff"/>
<rect x="895.70" y="756.65" width="37.90" height="36.08" fill="#7297c1"/>
<rect x="933.30" y="756.65" width="37.90" height="36.08" fill="#5683b4"/>
<rect x="970.90" y="756.65" width="37.90" height="36.08" fill="#8eaccd"/>
<rect x="858.10" y="792.43" width="37.90" height="36.08" fill="#e3eaf3"/>
<rect x="895.70" y="792.43" width="37.90" height="36.08" fill="#abc1da"/>
<rect x="933.30" y="792.43" width="37.90" height="36.08" fill="#c7d6e6"/>
<rect x="970.90" y="792.43" width="37.90" height="36.08" fill="#5683b4"/>
<rect x="858.1" y="685.1" width="150.4" height="143.1" fill="none" stroke="#8c8c8c" stroke-width="1"/>
<path d="M876.9,685.1 v2.5 M876.9,828.2 v-2.5 M858.1,703.0 h2.5 M1008.5,703.0 h-2.5 M914.5,685.1 v2.5 M914.5,828.2 v-2.5 M858.1,738.8 h2.5 M1008.5,738.8 h-2.5 M952.1,685.1 v2.5 M952.1,828.2 v-2.5 M858.1,774.5 h2.5 M1008.5,774.5 h-2.5 M989.7,685.1 v2.5 M989.7,828.2 v-2.5 M858.1,810.3 h2.5 M1008.5,810.3 h-2.5" stroke="#8c8c8c" stroke-width="1"/>
<g font-size="17" fill="#141c2c" text-anchor="middle">
<text x="878.7" y="709.2">5</text>
<text x="916.3" y="709.2">1</text>
<text x="953.9" y="709.2">2</text>
<text x="991.5" y="709.2">1</text>
<text x="878.7" y="745.0">7</text>
<text x="916.3" y="745.0">1</text>
<text x="953.9" y="745.0">0</text>
<text x="991.5" y="745.0">3</text>
<text x="878.7" y="780.7">0</text>
<text x="916.3" y="780.7">5</text>
<text x="953.9" y="780.7">6</text>
<text x="991.5" y="780.7">4</text>
<text x="878.7" y="816.5">1</text>
<text x="916.3" y="816.5">3</text>
<text x="953.9" y="816.5">2</text>
<text x="991.5" y="816.5">6</text>
</g>
<rect x="1015" y="810.31" width="15.9" height="18.19" fill="#ffffff"/>
<rect x="1015" y="792.43" width="15.9" height="18.19" fill="#e3eaf3"/>
<rect x="1015" y="774.54" width="15.9" height="18.19" fill="#c7d6e6"/>
<rect x="1015" y="756.65" width="15.9" height="18.19" fill="#abc1da"/>
<rect x="1015" y="738.76" width="15.9" height="18.19" fill="#8eaccd"/>
<rect x="1015" y="720.88" width="15.9" height="18.19" fill="#7297c1"/>
<rect x="1015" y="702.99" width="15.9" height="18.19" fill="#5683b4"/>
<rect x="1015" y="685.10" width="15.9" height="18.19" fill="#3a6ea8"/>
<rect x="1015" y="685.1" width="15.9" height="143.1" fill="none" stroke="#8c8c8c" stroke-width="1"/>
<g font-size="16.3" fill="#1e1e1e">
<text x="1037.4" y="833.8">0</text>
<text x="1037.4" y="792.9">2</text>
<text x="1037.4" y="752.0">4</text>
<text x="1037.4" y="711.1">6</text>
</g>
<path d="M1030.9,828.2 h-2.5 M1030.9,787.3 h-2.5 M1030.9,746.4 h-2.5 M1030.9,705.5 h-2.5" stroke="#8c8c8c" stroke-width="1"/>
<text class="bi" x="945.7" y="674.6" font-size="15.5" text-anchor="middle">A<tspan font-size="10.5" dy="3.5" font-weight="normal" font-style="normal">3</tspan></text>
</g>
<!-- ============ SECTION E ============ -->
<text class="lbl" x="24.8" y="851.9" font-size="26">e</text>
<g><!-- e00 -->
<rect x="104" y="845.5" width="143.1" height="131.1" fill="#fff" stroke="#8a8a8a" stroke-width="1.1"/>
<path d="M118.3,976.6 v-2.5 M118.3,845.5 v2.5 M104,963.5 h2.5 M247.1,963.5 h-2.5 M175.6,976.6 v-2.5 M175.6,845.5 v2.5 M104,911.0 h2.5 M247.1,911.0 h-2.5 M232.8,976.6 v-2.5 M232.8,845.5 v2.5 M104,858.6 h2.5 M247.1,858.6 h-2.5" stroke="#8a8a8a" stroke-width="1"/>
<path d="M104,976.6 L247.1,845.5" stroke="#7676d2" stroke-width="1.15" stroke-dasharray="8 5.5"/>
<circle cx="142.2" cy="937.1" r="5.4" fill="#e2281c" stroke="#c4201a" stroke-width="0.8"/>
<circle cx="186.7" cy="901.1" r="5.4" fill="#e2281c" stroke="#c4201a" stroke-width="0.8"/>
<circle cx="218.5" cy="865.5" r="5.4" fill="#e2281c" stroke="#c4201a" stroke-width="0.8"/>
<circle cx="221" cy="863.5" r="5.4" fill="#e2281c" stroke="#c4201a" stroke-width="0.8"/>
<g font-size="15" fill="#262626" text-anchor="end">
<text x="98.0" y="863.9">0.2</text>
<text x="98.0" y="916.3">0</text>
<text x="98.0" y="968.8">-0.2</text>
</g>
<g font-size="15" fill="#262626" text-anchor="middle">
<text x="114.8" y="996">-0.2</text>
<text x="175.1" y="996">0</text>
<text x="232.3" y="996">0.2</text>
</g>
<text x="172.6" y="1015.5" font-size="15" fill="#262626" text-anchor="middle" textLength="110" lengthAdjust="spacingAndGlyphs">Ideal Output [V]</text>
<text x="0" y="0" font-size="15" fill="#262626" text-anchor="middle" textLength="120" lengthAdjust="spacingAndGlyphs" transform="translate(67.1,903.5) rotate(-90)">Circuit Output [V]</text>
<text x="117.8" y="871" font-size="15.2" fill="#262626">Cycle 1</text>
<text x="135.6" y="965.5" font-size="15.2" fill="#262626">INV with <tspan class="bi">A</tspan><tspan font-size="10.5" dy="3">0</tspan></text>
</g>
<g><!-- e01 -->
<rect x="302.5" y="845.5" width="142.8" height="131.1" fill="#fff" stroke="#8a8a8a" stroke-width="1.1"/>
<path d="M316.8,976.6 v-2.5 M316.8,845.5 v2.5 M302.5,963.5 h2.5 M445.3,963.5 h-2.5 M373.9,976.6 v-2.5 M373.9,845.5 v2.5 M302.5,911.0 h2.5 M445.3,911.0 h-2.5 M431.0,976.6 v-2.5 M431.0,845.5 v2.5 M302.5,858.6 h2.5 M445.3,858.6 h-2.5" stroke="#8a8a8a" stroke-width="1"/>
<path d="M302.5,976.6 L445.3,845.5" stroke="#7676d2" stroke-width="1.15" stroke-dasharray="8 5.5"/>
<circle cx="378.9" cy="907.3" r="5.4" fill="#e2281c" stroke="#c4201a" stroke-width="0.8"/>
<circle cx="397.8" cy="874" r="5.4" fill="#e2281c" stroke="#c4201a" stroke-width="0.8"/>
<circle cx="424.4" cy="858.9" r="5.4" fill="#e2281c" stroke="#c4201a" stroke-width="0.8"/>
<circle cx="430" cy="860" r="5.4" fill="#e2281c" stroke="#c4201a" stroke-width="0.8"/>
<g font-size="15" fill="#262626" text-anchor="end">
<text x="296.5" y="863.9">0.2</text>
<text x="296.5" y="916.3">0</text>
<text x="296.5" y="968.8">-0.2</text>
</g>
<g font-size="15" fill="#262626" text-anchor="middle">
<text x="313.3" y="996">-0.2</text>
<text x="373.4" y="996">0</text>
<text x="430.5" y="996">0.2</text>
</g>
<text x="370.9" y="1015.5" font-size="15" fill="#262626" text-anchor="middle" textLength="110" lengthAdjust="spacingAndGlyphs">Ideal Output [V]</text>
<text x="0" y="0" font-size="15" fill="#262626" text-anchor="middle" textLength="120" lengthAdjust="spacingAndGlyphs" transform="translate(265.6,903.5) rotate(-90)">Circuit Output [V]</text>
<text x="317.8" y="870.5" font-size="15.2" fill="#262626">Cycle 2</text>
</g>
<g><!-- e02 -->
<rect x="500" y="845.5" width="142.8" height="131.1" fill="#fff" stroke="#8a8a8a" stroke-width="1.1"/>
<path d="M514.3,976.6 v-2.5 M514.3,845.5 v2.5 M500,963.5 h2.5 M642.8,963.5 h-2.5 M571.4,976.6 v-2.5 M571.4,845.5 v2.5 M500,911.0 h2.5 M642.8,911.0 h-2.5 M628.5,976.6 v-2.5 M628.5,845.5 v2.5 M500,858.6 h2.5 M642.8,858.6 h-2.5" stroke="#8a8a8a" stroke-width="1"/>
<path d="M500,976.6 L642.8,845.5" stroke="#7676d2" stroke-width="1.15" stroke-dasharray="8 5.5"/>
<circle cx="621.8" cy="851.8" r="5.4" fill="#e2281c" stroke="#c4201a" stroke-width="0.8"/>
<circle cx="590" cy="890" r="5.4" fill="#e2281c" stroke="#c4201a" stroke-width="0.8"/>
<circle cx="573.3" cy="913.3" r="5.4" fill="#e2281c" stroke="#c4201a" stroke-width="0.8"/>
<circle cx="566.7" cy="916.7" r="5.4" fill="#e2281c" stroke="#c4201a" stroke-width="0.8"/>
<g font-size="15" fill="#262626" text-anchor="end">
<text x="494.0" y="863.9">0.2</text>
<text x="494.0" y="916.3">0</text>
<text x="494.0" y="968.8">-0.2</text>
</g>
<g font-size="15" fill="#262626" text-anchor="middle">
<text x="510.8" y="996">-0.2</text>
<text x="570.9" y="996">0</text>
<text x="628.0" y="996">0.2</text>
</g>
<text x="568.4" y="1015.5" font-size="15" fill="#262626" text-anchor="middle" textLength="110" lengthAdjust="spacingAndGlyphs">Ideal Output [V]</text>
<text x="0" y="0" font-size="15" fill="#262626" text-anchor="middle" textLength="120" lengthAdjust="spacingAndGlyphs" transform="translate(463.1,903.5) rotate(-90)">Circuit Output [V]</text>
<text x="517.8" y="870.5" font-size="15.2" fill="#262626">Cycle 3</text>
</g>
<g><!-- e10 -->
<rect x="104" y="1021.7" width="143.1" height="132.3" fill="#fff" stroke="#8a8a8a" stroke-width="1.1"/>
<path d="M118.3,1154 v-2.5 M118.3,1021.7 v2.5 M104,1140.8 h2.5 M247.1,1140.8 h-2.5 M175.6,1154 v-2.5 M175.6,1021.7 v2.5 M104,1087.8 h2.5 M247.1,1087.8 h-2.5 M232.8,1154 v-2.5 M232.8,1021.7 v2.5 M104,1034.9 h2.5 M247.1,1034.9 h-2.5" stroke="#8a8a8a" stroke-width="1"/>
<path d="M104,1154 L247.1,1021.7" stroke="#7676d2" stroke-width="1.15" stroke-dasharray="8 5.5"/>
<circle cx="173.3" cy="1090.1" r="5.4" fill="#e2281c" stroke="#c4201a" stroke-width="0.8"/>
<circle cx="180.4" cy="1082.8" r="5.4" fill="#e2281c" stroke="#c4201a" stroke-width="0.8"/>
<circle cx="185.6" cy="1078.3" r="5.4" fill="#e2281c" stroke="#c4201a" stroke-width="0.8"/>
<circle cx="187.1" cy="1077.2" r="5.4" fill="#e2281c" stroke="#c4201a" stroke-width="0.8"/>
<g font-size="15" fill="#262626" text-anchor="end">
<text x="98.0" y="1040.2">0.2</text>
<text x="98.0" y="1093.1">0</text>
<text x="98.0" y="1146.1">-0.2</text>
</g>
<g font-size="15" fill="#262626" text-anchor="middle">
<text x="114.8" y="1172.8">-0.2</text>
<text x="175.1" y="1172.8">0</text>
<text x="232.3" y="1172.8">0.2</text>
</g>
<text x="172.6" y="1191.5" font-size="15" fill="#262626" text-anchor="middle" textLength="110" lengthAdjust="spacingAndGlyphs">Ideal Output [V]</text>
<text x="0" y="0" font-size="15" fill="#262626" text-anchor="middle" textLength="120" lengthAdjust="spacingAndGlyphs" transform="translate(67.1,1080.3) rotate(-90)">Circuit Output [V]</text>
<text x="115.6" y="1047" font-size="15.2" fill="#262626">Cycle 1</text>
<text x="134.4" y="1141.7" font-size="15.2" fill="#262626">MVM with <tspan class="bi">A</tspan></text>
</g>
<g><!-- e11 -->
<rect x="302.5" y="1021.7" width="142.8" height="132.3" fill="#fff" stroke="#8a8a8a" stroke-width="1.1"/>
<path d="M316.8,1154 v-2.5 M316.8,1021.7 v2.5 M302.5,1140.8 h2.5 M445.3,1140.8 h-2.5 M373.9,1154 v-2.5 M373.9,1021.7 v2.5 M302.5,1087.8 h2.5 M445.3,1087.8 h-2.5 M431.0,1154 v-2.5 M431.0,1021.7 v2.5 M302.5,1034.9 h2.5 M445.3,1034.9 h-2.5" stroke="#8a8a8a" stroke-width="1"/>
<path d="M302.5,1154 L445.3,1021.7" stroke="#7676d2" stroke-width="1.15" stroke-dasharray="8 5.5"/>
<circle cx="384.4" cy="1077.9" r="5.4" fill="#e2281c" stroke="#c4201a" stroke-width="0.8"/>
<circle cx="386.7" cy="1075.4" r="5.4" fill="#e2281c" stroke="#c4201a" stroke-width="0.8"/>
<circle cx="394.9" cy="1068.3" r="5.4" fill="#e2281c" stroke="#c4201a" stroke-width="0.8"/>
<circle cx="401.1" cy="1062.8" r="5.4" fill="#e2281c" stroke="#c4201a" stroke-width="0.8"/>
<g font-size="15" fill="#262626" text-anchor="end">
<text x="296.5" y="1040.2">0.2</text>
<text x="296.5" y="1093.1">0</text>
<text x="296.5" y="1146.1">-0.2</text>
</g>
<g font-size="15" fill="#262626" text-anchor="middle">
<text x="313.3" y="1172.8">-0.2</text>
<text x="373.4" y="1172.8">0</text>
<text x="430.5" y="1172.8">0.2</text>
</g>
<text x="370.9" y="1191.5" font-size="15" fill="#262626" text-anchor="middle" textLength="110" lengthAdjust="spacingAndGlyphs">Ideal Output [V]</text>
<text x="0" y="0" font-size="15" fill="#262626" text-anchor="middle" textLength="120" lengthAdjust="spacingAndGlyphs" transform="translate(265.6,1080.3) rotate(-90)">Circuit Output [V]</text>
<text x="316.7" y="1045" font-size="15.2" fill="#262626">Cycle 2</text>
</g>
<g><!-- e12 -->
<rect x="500" y="1021.7" width="142.8" height="132.3" fill="#fff" stroke="#8a8a8a" stroke-width="1.1"/>
<path d="M514.3,1154 v-2.5 M514.3,1021.7 v2.5 M500,1140.8 h2.5 M642.8,1140.8 h-2.5 M571.4,1154 v-2.5 M571.4,1021.7 v2.5 M500,1087.8 h2.5 M642.8,1087.8 h-2.5 M628.5,1154 v-2.5 M628.5,1021.7 v2.5 M500,1034.9 h2.5 M642.8,1034.9 h-2.5" stroke="#8a8a8a" stroke-width="1"/>
<path d="M500,1154 L642.8,1021.7" stroke="#7676d2" stroke-width="1.15" stroke-dasharray="8 5.5"/>
<circle cx="580.4" cy="1078.3" r="5.4" fill="#e2281c" stroke="#c4201a" stroke-width="0.8"/>
<circle cx="583.3" cy="1076.1" r="5.4" fill="#e2281c" stroke="#c4201a" stroke-width="0.8"/>
<g font-size="15" fill="#262626" text-anchor="end">
<text x="494.0" y="1040.2">0.2</text>
<text x="494.0" y="1093.1">0</text>
<text x="494.0" y="1146.1">-0.2</text>
</g>
<g font-size="15" fill="#262626" text-anchor="middle">
<text x="510.8" y="1172.8">-0.2</text>
<text x="570.9" y="1172.8">0</text>
<text x="628.0" y="1172.8">0.2</text>
</g>
<text x="568.4" y="1191.5" font-size="15" fill="#262626" text-anchor="middle" textLength="110" lengthAdjust="spacingAndGlyphs">Ideal Output [V]</text>
<text x="0" y="0" font-size="15" fill="#262626" text-anchor="middle" textLength="120" lengthAdjust="spacingAndGlyphs" transform="translate(463.1,1080.3) rotate(-90)">Circuit Output [V]</text>
<text x="516.7" y="1043" font-size="15.2" fill="#262626">Cycle 3</text>
</g>
<!-- ============ SECTION F ============ -->
<text class="lbl" x="652.6" y="862.4" font-size="26">f</text>
<rect x="739.9" y="855.9" width="308.0" height="289.9" fill="#fff" stroke="#8a8a8a" stroke-width="1.1"/>
<path d="M739.9,1073.9 H1047.9" stroke="#6a6a6a" stroke-width="1.3"/>
<path d="M739.9,855.9 h4 M1047.9,855.9 h-4 M739.9,928.6 h4 M1047.9,928.6 h-4 M739.9,1001.2 h4 M1047.9,1001.2 h-4 M739.9,1073.9 h4 M1047.9,1073.9 h-4 M739.9,1096 h4 M1047.9,1096 h-4 M793.6,1145.8 v-4 M793.6,855.9 v4 M793.6,1073.9 v-3 M860.5,1145.8 v-4 M860.5,855.9 v4 M860.5,1073.9 v-3 M927.1,1145.8 v-4 M927.1,855.9 v4 M927.1,1073.9 v-3 M993.6,1145.8 v-4 M993.6,855.9 v4 M993.6,1073.9 v-3" stroke="#8a8a8a" stroke-width="1"/>
<path d="M739.9,906.7 h2 M1047.9,906.7 h-2 M739.9,893.9 h2 M1047.9,893.9 h-2 M739.9,884.8 h2 M1047.9,884.8 h-2 M739.9,877.8 h2 M1047.9,877.8 h-2 M739.9,872.0 h2 M1047.9,872.0 h-2 M739.9,867.2 h2 M1047.9,867.2 h-2 M739.9,862.9 h2 M1047.9,862.9 h-2 M739.9,859.2 h2 M1047.9,859.2 h-2 M739.9,979.4 h2 M1047.9,979.4 h-2 M739.9,966.6 h2 M1047.9,966.6 h-2 M739.9,957.5 h2 M1047.9,957.5 h-2 M739.9,950.4 h2 M1047.9,950.4 h-2 M739.9,944.7 h2 M1047.9,944.7 h-2 M739.9,939.8 h2 M1047.9,939.8 h-2 M739.9,935.6 h2 M1047.9,935.6 h-2 M739.9,931.9 h2 M1047.9,931.9 h-2 M739.9,1052.0 h2 M1047.9,1052.0 h-2 M739.9,1039.2 h2 M1047.9,1039.2 h-2 M739.9,1030.2 h2 M1047.9,1030.2 h-2 M739.9,1023.1 h2 M1047.9,1023.1 h-2 M739.9,1017.4 h2 M1047.9,1017.4 h-2 M739.9,1012.5 h2 M1047.9,1012.5 h-2 M739.9,1008.3 h2 M1047.9,1008.3 h-2 M739.9,1004.6 h2 M1047.9,1004.6 h-2 M739.9,1111.0 h2 M1047.9,1111.0 h-2 M739.9,1119.7 h2 M1047.9,1119.7 h-2 M739.9,1125.9 h2 M1047.9,1125.9 h-2 M739.9,1130.7 h2 M1047.9,1130.7 h-2 M739.9,1134.7 h2 M1047.9,1134.7 h-2 M739.9,1138.0 h2 M1047.9,1138.0 h-2 M739.9,1140.9 h2 M1047.9,1140.9 h-2 M739.9,1143.4 h2 M1047.9,1143.4 h-2 M739.9,1076.2 h2 M1047.9,1076.2 h-2 M739.9,1081.0 h2 M1047.9,1081.0 h-2 M739.9,1085.0 h2 M1047.9,1085.0 h-2 M739.9,1088.3 h2 M1047.9,1088.3 h-2 M739.9,1091.2 h2 M1047.9,1091.2 h-2 M739.9,1093.7 h2 M1047.9,1093.7 h-2" stroke="#b4b4b4" stroke-width="0.8"/>
<rect x="772.6" y="901.5" width="12.4" height="172.4" fill="#2b72c0" stroke="#555" stroke-width="0.5" stroke-opacity="0.6"/>
<rect x="787.4" y="1073.9" width="12.4" height="25.0" fill="#d95b24" stroke="#555" stroke-width="0.5" stroke-opacity="0.6"/>
<rect x="802.2" y="1073.9" width="12.4" height="41.9" fill="#eab83f" stroke="#555" stroke-width="0.5" stroke-opacity="0.6"/>
<rect x="839.5" y="911.7" width="12.4" height="162.2" fill="#2b72c0" stroke="#555" stroke-width="0.5" stroke-opacity="0.6"/>
<rect x="854.3" y="940.7" width="12.4" height="133.2" fill="#d95b24" stroke="#555" stroke-width="0.5" stroke-opacity="0.6"/>
<rect x="869.1" y="988.8" width="12.4" height="85.1" fill="#eab83f" stroke="#555" stroke-width="0.5" stroke-opacity="0.6"/>
<rect x="906.1" y="990.1" width="12.4" height="83.8" fill="#2b72c0" stroke="#555" stroke-width="0.5" stroke-opacity="0.6"/>
<rect x="920.9" y="1073.9" width="12.4" height="59.3" fill="#d95b24" stroke="#555" stroke-width="0.5" stroke-opacity="0.6"/>
<rect x="935.7" y="1073.9" width="12.4" height="21.7" fill="#eab83f" stroke="#555" stroke-width="0.5" stroke-opacity="0.6"/>
<rect x="972.6" y="900.7" width="12.4" height="173.2" fill="#2b72c0" stroke="#555" stroke-width="0.5" stroke-opacity="0.6"/>
<rect x="987.4" y="972.6" width="12.4" height="101.3" fill="#d95b24" stroke="#555" stroke-width="0.5" stroke-opacity="0.6"/>
<rect x="1002.2" y="1024.2" width="12.4" height="49.7" fill="#eab83f" stroke="#555" stroke-width="0.5" stroke-opacity="0.6"/>
<path d="M794.4,947.7 Q818.7,962.5 817.7,1021.8" fill="none" stroke="#1d2b57" stroke-width="2.8"/>
<path d="M811.0,1021.8 L824.4,1021.8 L817.7,1034.4 Z" fill="#1d2b57"/>
<path d="M870.1,943.6 Q890.4,949.4 889.4,972.7" fill="none" stroke="#1d2b57" stroke-width="2.8"/>
<path d="M882.7,972.7 L896.1,972.7 L889.4,985.3 Z" fill="#1d2b57"/>
<path d="M924.3,976.1 Q948.4,990.9 947.4,1050.0" fill="none" stroke="#1d2b57" stroke-width="2.8"/>
<path d="M940.7,1050.0 L954.1,1050.0 L947.4,1062.6 Z" fill="#1d2b57"/>
<path d="M1001.7,932.4 Q1026.3,947.1 1025.3,1005.7" fill="none" stroke="#1d2b57" stroke-width="2.8"/>
<path d="M1018.6,1005.7 L1032.0,1005.7 L1025.3,1018.3 Z" fill="#1d2b57"/>
<rect x="856.2" y="864.9" width="108.9" height="68.7" fill="#fff" stroke="#8a8a8a" stroke-width="1.1"/>
<rect x="859.4" y="868.8" width="38.7" height="16" fill="#2b72c0" stroke="#555" stroke-width="0.5" stroke-opacity="0.6"/>
<text x="904.8" y="882.1" font-size="15" fill="#1e1e1e" textLength="50.6" lengthAdjust="spacingAndGlyphs">Cycle 1</text>
<rect x="859.4" y="891.2" width="38.7" height="16" fill="#d95b24" stroke="#555" stroke-width="0.5" stroke-opacity="0.6"/>
<text x="904.8" y="904.3" font-size="15" fill="#1e1e1e" textLength="50.6" lengthAdjust="spacingAndGlyphs">Cycle 2</text>
<rect x="859.4" y="913.3" width="38.7" height="16" fill="#eab83f" stroke="#555" stroke-width="0.5" stroke-opacity="0.6"/>
<text x="904.8" y="926.3" font-size="15" fill="#1e1e1e" textLength="50.6" lengthAdjust="spacingAndGlyphs">Cycle 3</text>
<g font-size="14.5" fill="#262626" text-anchor="end">
<text x="735.5" y="869.6">10<tspan font-size="10" dy="-7">-1</tspan></text>
<text x="735.5" y="935.7">10<tspan font-size="10" dy="-7">-2</tspan></text>
<text x="735.5" y="1011">10<tspan font-size="10" dy="-7">-3</tspan></text>
<text x="735.5" y="1074.5">10<tspan font-size="10" dy="-7">-4</tspan></text>
<text x="735.5" y="1097.8">-10<tspan font-size="10" dy="-7">-4</tspan></text>
<text x="735.5" y="1149.6">-10<tspan font-size="10" dy="-7">-3</tspan></text>
</g>
<g font-size="15.5" fill="#111">
<text x="786.6" y="1167.6" class="bi" font-size="17">x<tspan font-size="10.5" dy="3.5" font-weight="normal" font-style="normal" fill="#444">1</tspan></text>
<text x="853.5" y="1167.6" class="bi" font-size="17">x<tspan font-size="10.5" dy="3.5" font-weight="normal" font-style="normal" fill="#444">2</tspan></text>
<text x="920.1" y="1167.6" class="bi" font-size="17">x<tspan font-size="10.5" dy="3.5" font-weight="normal" font-style="normal" fill="#444">3</tspan></text>
<text x="986.6" y="1167.6" class="bi" font-size="17">x<tspan font-size="10.5" dy="3.5" font-weight="normal" font-style="normal" fill="#444">4</tspan></text>
</g>
<text x="0" y="0" font-size="15.5" fill="#111" class="bi" text-anchor="middle" transform="translate(683.8,1004) rotate(-90)">x<tspan font-size="9" dy="3" font-weight="normal">i</tspan><tspan font-size="11" dx="-4" dy="-8" font-style="normal">*</tspan><tspan dy="5" font-weight="normal" font-style="normal"> - </tspan>x<tspan font-size="9" dy="3" font-weight="normal">i</tspan><tspan font-size="11" dx="-2" dy="-7.5" font-weight="normal" font-style="normal" fill="#444">(cycle)</tspan></text>
</svg>
</body></html>
